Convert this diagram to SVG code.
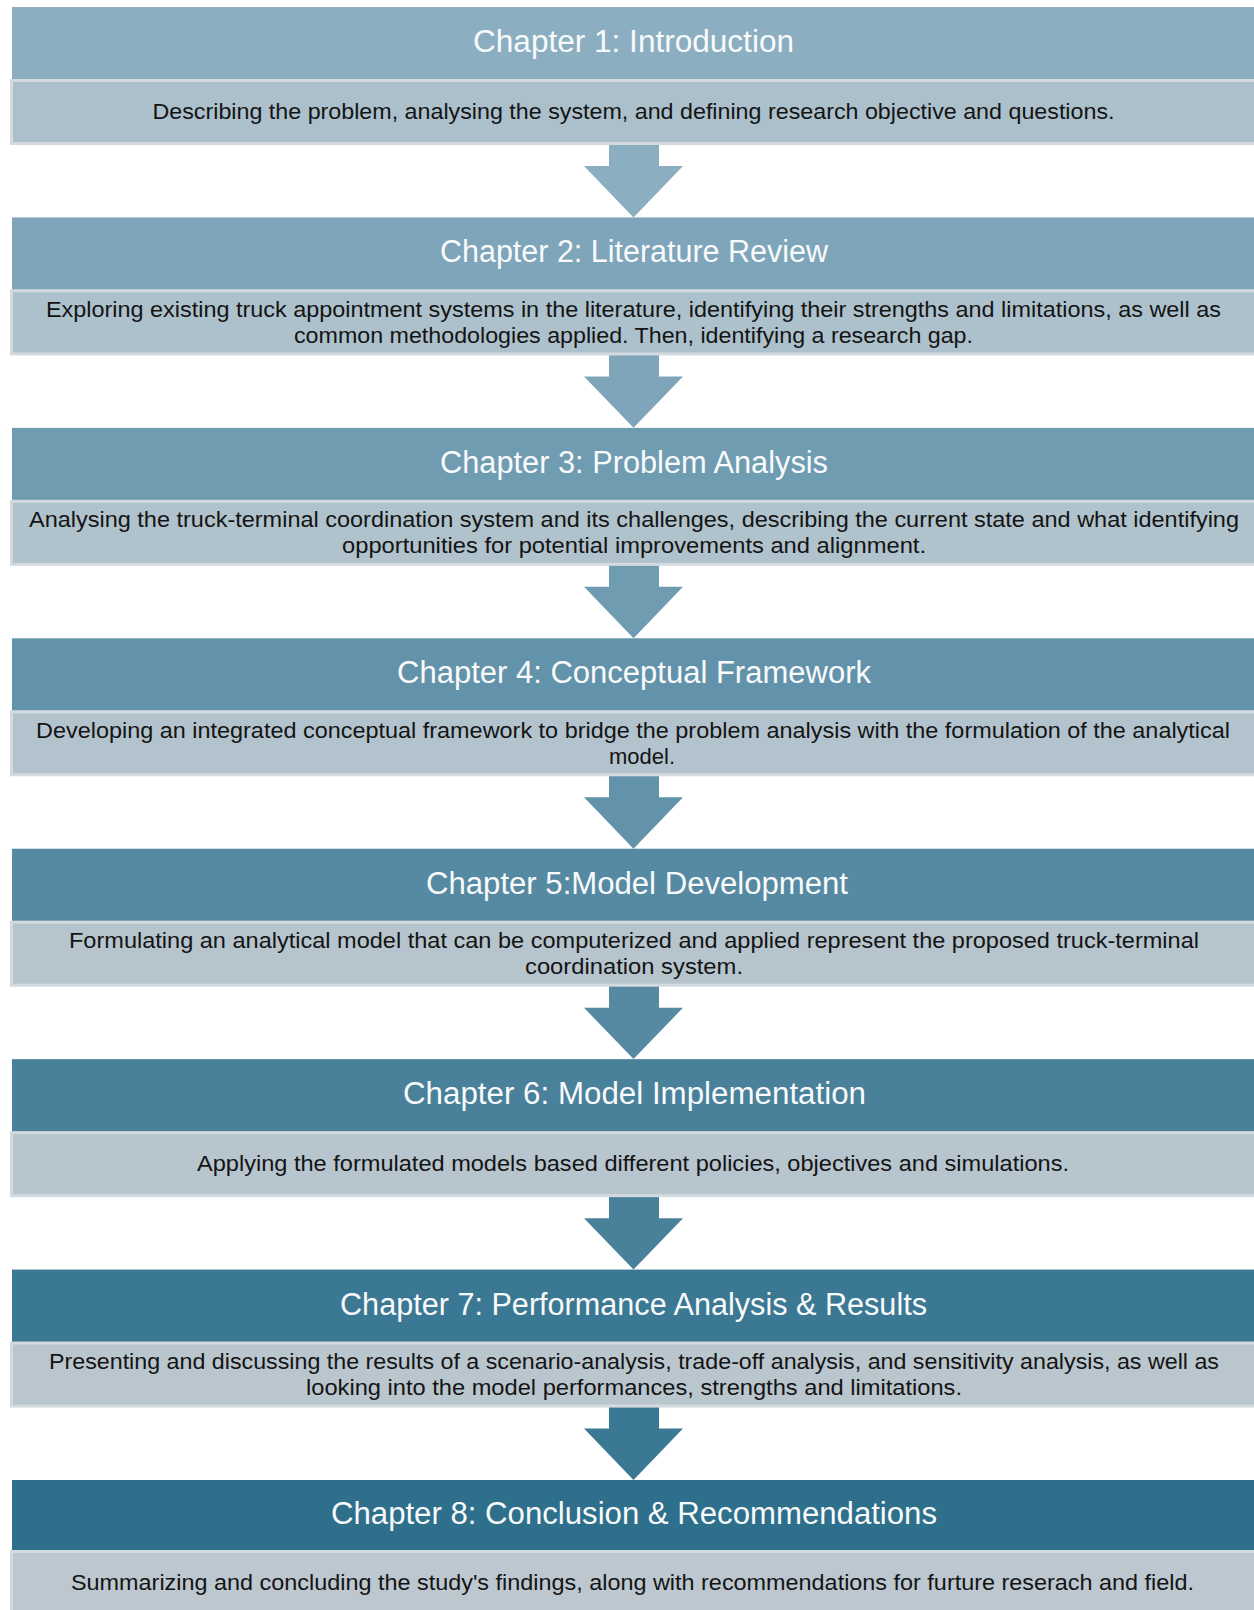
<svg xmlns="http://www.w3.org/2000/svg" width="1254" height="1610" viewBox="0 0 1254 1610">
  <style>
    .hdr { stroke: none; }
    .desc { stroke: #D2D9DF; stroke-width: 3; }
    .title { font-family: "Liberation Sans", Arial, sans-serif; font-size: 31px; fill: #F8FAFB; text-anchor: middle; }
    .txt { font-family: "Liberation Sans", Arial, sans-serif; font-size: 22px; fill: #141414; text-anchor: middle; }
  </style>
  <defs>
    <!-- block arrow between chapters, origin at top of chapter block -->
    <path id="arrow" d="M609,137 H659 V159 H683 L633.5,210.4 L584,159 H609 Z"/>
  </defs>
  <rect width="1254" height="1610" fill="#FFFFFF"/>

  <g id="connectors">
    <use href="#arrow" y="7" fill="#8BAEC1"/>
    <use href="#arrow" y="217.43" fill="#7EA5B9"/>
    <use href="#arrow" y="427.86" fill="#709CB2"/>
    <use href="#arrow" y="638.29" fill="#6393AA"/>
    <use href="#arrow" y="848.72" fill="#568AA2"/>
    <use href="#arrow" y="1059.15" fill="#49819A"/>
    <use href="#arrow" y="1269.58" fill="#3B7893"/>
  </g>

  <g id="chapter1" transform="translate(0,7)">
    <rect class="desc" x="11.5" y="73.5" width="1260" height="63" fill="#ABC0CB"/>
    <rect class="hdr" x="12" y="0" width="1260" height="72" fill="#8BAEC1"/>
    <text class="title" x="633.5" y="45" textLength="321" lengthAdjust="spacingAndGlyphs">Chapter 1: Introduction</text>
    <text class="txt" x="633.5" y="111.5" textLength="962" lengthAdjust="spacingAndGlyphs">Describing the problem, analysing the system, and defining research objective and questions.</text>
  </g>

  <g id="chapter2" transform="translate(0,217.43)">
    <rect class="desc" x="11.5" y="73.5" width="1260" height="63" fill="#ADC1CC"/>
    <rect class="hdr" x="12" y="0" width="1260" height="72" fill="#7EA5B9"/>
    <text class="title" x="634" y="45" textLength="388" lengthAdjust="spacingAndGlyphs">Chapter 2: Literature Review</text>
    <text class="txt" x="633.5" y="99.5" textLength="1175" lengthAdjust="spacingAndGlyphs">Exploring existing truck appointment systems in the literature, identifying their strengths and limitations, as well as</text>
    <text class="txt" x="633.5" y="125.5" textLength="679" lengthAdjust="spacingAndGlyphs">common methodologies applied. Then, identifying a research gap.</text>
  </g>

  <g id="chapter3" transform="translate(0,427.86)">
    <rect class="desc" x="11.5" y="73.5" width="1260" height="63" fill="#B0C2CC"/>
    <rect class="hdr" x="12" y="0" width="1260" height="72" fill="#709CB2"/>
    <text class="title" x="634" y="45" textLength="388" lengthAdjust="spacingAndGlyphs">Chapter 3: Problem Analysis</text>
    <text class="txt" x="634" y="99.5" textLength="1210" lengthAdjust="spacingAndGlyphs">Analysing the truck-terminal coordination system and its challenges, describing the current state and what identifying</text>
    <text class="txt" x="634" y="125.5" textLength="584" lengthAdjust="spacingAndGlyphs">opportunities for potential improvements and alignment.</text>
  </g>

  <g id="chapter4" transform="translate(0,638.29)">
    <rect class="desc" x="11.5" y="73.5" width="1260" height="63" fill="#B2C3CD"/>
    <rect class="hdr" x="12" y="0" width="1260" height="72" fill="#6393AA"/>
    <text class="title" x="634" y="45" textLength="474" lengthAdjust="spacingAndGlyphs">Chapter 4: Conceptual Framework</text>
    <text class="txt" x="633" y="99.5" textLength="1194" lengthAdjust="spacingAndGlyphs">Developing an integrated conceptual framework to bridge the problem analysis with the formulation of the analytical</text>
    <text class="txt" x="642" y="125.5">model.</text>
  </g>

  <g id="chapter5" transform="translate(0,848.72)">
    <rect class="desc" x="11.5" y="73.5" width="1260" height="63" fill="#B5C4CD"/>
    <rect class="hdr" x="12" y="0" width="1260" height="72" fill="#568AA2"/>
    <text class="title" x="637" y="45" textLength="422" lengthAdjust="spacingAndGlyphs">Chapter 5:Model Development</text>
    <text class="txt" x="634" y="99.5" textLength="1130" lengthAdjust="spacingAndGlyphs">Formulating an analytical model that can be computerized and applied represent the proposed truck-terminal</text>
    <text class="txt" x="634" y="125.5" textLength="218" lengthAdjust="spacingAndGlyphs">coordination system.</text>
  </g>

  <g id="chapter6" transform="translate(0,1059.15)">
    <rect class="desc" x="11.5" y="73.5" width="1260" height="63" fill="#B7C5CE"/>
    <rect class="hdr" x="12" y="0" width="1260" height="72" fill="#49819A"/>
    <text class="title" x="634.5" y="45" textLength="463" lengthAdjust="spacingAndGlyphs">Chapter 6: Model Implementation</text>
    <text class="txt" x="633" y="111.5" textLength="872" lengthAdjust="spacingAndGlyphs">Applying the formulated models based different policies, objectives and simulations.</text>
  </g>

  <g id="chapter7" transform="translate(0,1269.58)">
    <rect class="desc" x="11.5" y="73.5" width="1260" height="63" fill="#BAC6CE"/>
    <rect class="hdr" x="12" y="0" width="1260" height="72" fill="#3B7893"/>
    <text class="title" x="633.5" y="45" textLength="587" lengthAdjust="spacingAndGlyphs">Chapter 7: Performance Analysis &amp; Results</text>
    <text class="txt" x="634" y="99.5" textLength="1170" lengthAdjust="spacingAndGlyphs">Presenting and discussing the results of a scenario-analysis, trade-off analysis, and sensitivity analysis, as well as</text>
    <text class="txt" x="634" y="125.5" textLength="656" lengthAdjust="spacingAndGlyphs">looking into the model performances, strengths and limitations.</text>
  </g>

  <g id="chapter8" transform="translate(0,1480)">
    <rect class="desc" x="11.5" y="71.5" width="1260" height="63" fill="#BCC7CF"/>
    <rect class="hdr" x="12" y="0" width="1260" height="70" fill="#2E6F8B"/>
    <text class="title" x="634" y="44" textLength="606" lengthAdjust="spacingAndGlyphs">Chapter 8: Conclusion &amp; Recommendations</text>
    <text class="txt" x="632.5" y="110" textLength="1123" lengthAdjust="spacingAndGlyphs">Summarizing and concluding the study's findings, along with recommendations for furture reserach and field.</text>
  </g>
</svg>
